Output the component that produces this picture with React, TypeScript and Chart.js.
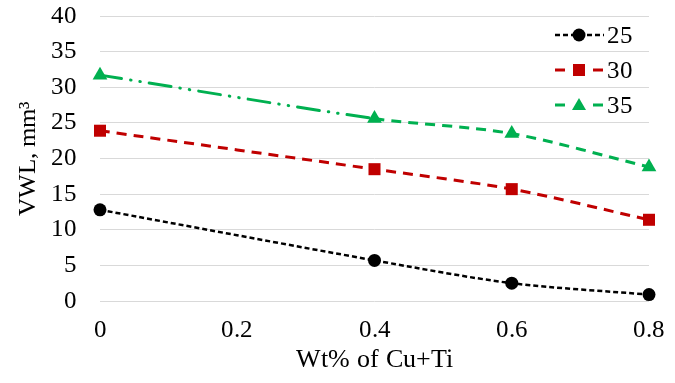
import React, { useEffect, useRef } from "react";
import { Chart, registerables } from "chart.js";

Chart.register(...registerables);

const xValues = [0, 0.4, 0.6, 0.8];
const series25 = [12.8, 5.7, 2.5, 0.9];
const series30 = [23.9, 18.5, 15.7, 11.4];
const series35 = [31.7, 25.6, 23.5, 18.8];
const seriesLabels = ["25", "30", "35"];
const xTickLabels = ["0", "0.2", "0.4", "0.6", "0.8"];
const yTickLabels = ["0", "5", "10", "15", "20", "25", "30", "35", "40"];

const FONT = "TNRLocal, 'Liberation Serif', 'Times New Roman', serif";
const BLACK = "#000000";
const RED = "#C00000";
const GREEN = "#00B050";

const toPoints = (ys: number[]) => ys.map((y, i) => ({ x: xValues[i], y }));

const legendItems = [
  { label: seriesLabels[0], color: BLACK, width: 2.5, dash: [5, 3], style: "circle", r: 6.5 },
  { label: seriesLabels[1], color: RED, width: 3, dash: [10, 28], style: "rect", r: 8.5 },
  { label: seriesLabels[2], color: GREEN, width: 3, dash: [10, 28], style: "triangle", r: 8 },
];

const legendPlugin = {
  id: "customLegend",
  afterDraw(chart: any) {
    const ctx = chart.ctx as CanvasRenderingContext2D;
    const x0 = 555;
    const x1 = 604;
    const ys = [35, 70, 105];
    legendItems.forEach((it, i) => {
      const y = ys[i];
      ctx.save();
      ctx.strokeStyle = it.color;
      ctx.lineWidth = it.width;
      ctx.setLineDash(it.dash);
      ctx.beginPath();
      ctx.moveTo(x0, y);
      ctx.lineTo(x1, y);
      ctx.stroke();
      ctx.setLineDash([]);
      ctx.fillStyle = it.color;
      const cx = 579;
      ctx.beginPath();
      if (it.style === "circle") {
        ctx.arc(cx, y, it.r, 0, Math.PI * 2);
      } else if (it.style === "rect") {
        const s = 6;
        ctx.rect(cx - s, y - s, 2 * s, 2 * s);
      } else {
        ctx.moveTo(cx, y - 7);
        ctx.lineTo(cx + 7, y + 5);
        ctx.lineTo(cx - 7, y + 5);
        ctx.closePath();
      }
      ctx.fill();
      ctx.fillStyle = BLACK;
      ctx.font = `25px ${FONT}`;
      ctx.textAlign = "left";
      ctx.textBaseline = "middle";
      ctx.fillText(it.label, 607, y + 1);
      ctx.restore();
    });
  },
};

export default function App() {
  const ref = useRef<HTMLCanvasElement | null>(null);

  useEffect(() => {
    document.body.style.margin = "0";
    let chart: any = null;
    let cancelled = false;
    const build = () => {
      if (cancelled || !ref.current) return;
      chart = new Chart(ref.current, {
        type: "line",
        data: {
          datasets: [
            {
              label: seriesLabels[0],
              data: toPoints(series25),
              borderColor: BLACK,
              backgroundColor: BLACK,
              borderWidth: 2.5,
              borderDash: [5, 3],
              pointStyle: "circle",
              pointRadius: 6.5,
              pointBackgroundColor: BLACK,
              pointBorderColor: BLACK,
              pointBorderWidth: 0,
              tension: 0.3,
              clip: false,
            },
            {
              label: seriesLabels[1],
              data: toPoints(series30),
              borderColor: RED,
              backgroundColor: RED,
              borderWidth: 3,
              borderDash: [10, 7],
              pointStyle: "rect",
              pointRadius: 8.5,
              pointBackgroundColor: RED,
              pointBorderColor: RED,
              pointBorderWidth: 0,
              tension: 0.3,
              clip: false,
            },
            {
              label: seriesLabels[2],
              data: toPoints(series35),
              borderColor: GREEN,
              backgroundColor: GREEN,
              borderWidth: 3,
              borderDash: [10, 7],
              pointStyle: "triangle",
              pointRadius: 8.5,
              pointBackgroundColor: GREEN,
              pointBorderColor: GREEN,
              pointBorderWidth: 0,
              tension: 0.3,
              clip: false,
              segment: {
                borderDash: (c: any) => (c.p0DataIndex === 0 ? [22, 9, 0.5, 9, 0.5, 9] : undefined),
                borderCapStyle: (c: any) => (c.p0DataIndex === 0 ? "round" : undefined),
              },
            } as any,
          ],
        },
        options: {
          responsive: false,
          animation: false,
          layout: { padding: { top: 16, right: 26, left: 0, bottom: 0 } },
          plugins: {
            legend: { display: false },
            tooltip: { enabled: false },
          },
          scales: {
            x: {
              type: "linear",
              min: 0,
              max: 0.8,
              ticks: {
                stepSize: 0.2,
                color: BLACK,
                font: { family: FONT, size: 25 },
                padding: 14,
                maxRotation: 0,
                autoSkip: false,
                callback: (_v: any, i: number) => xTickLabels[i],
              },
              grid: { display: false, drawTicks: false },
              border: { display: false },
              title: {
                display: true,
                text: "Wt% of Cu+Ti",
                color: BLACK,
                font: { family: FONT, size: 26 },
                padding: { top: 0, bottom: 7 },
              },
              afterFit: (s: any) => {
                s.height = 82;
                s.paddingLeft = 0;
                s.paddingRight = 0;
              },
            },
            y: {
              min: 0,
              max: 40,
              ticks: {
                stepSize: 5,
                color: BLACK,
                font: { family: FONT, size: 25 },
                padding: 23,
                callback: (_v: any, i: number) => yTickLabels[i],
              },
              grid: { color: "#d9d9d9", lineWidth: 1, drawTicks: false },
              border: { display: false },
              title: {
                display: true,
                text: "VWL, mm³",
                color: BLACK,
                font: { family: FONT, size: 25 },
                padding: { top: 13, bottom: 0 },
              },
              afterFit: (s: any) => {
                s.width = 100;
                s.paddingTop = 0;
                s.paddingBottom = 0;
              },
            },
          },
        } as any,
        plugins: [legendPlugin],
      });
    };
    const loadFont = async () => {
      try {
        const FF: any = (window as any).FontFace;
        if (FF) {
          const face = new FF(
            "TNRLocal",
            "local('Liberation Serif'), local('LiberationSerif'), local('LiberationSerif-Regular'), local('Liberation Serif Regular')"
          );
          await face.load();
          (document as any).fonts.add(face);
        }
      } catch (e) {
        /* fall back to the named family */
      }
      try {
        await (document as any).fonts.load("25px TNRLocal", "VWL, mm³ 0123456789.");
      } catch (e) {
        /* ignore */
      }
    };
    loadFont().then(() => build());
    return () => {
      cancelled = true;
      if (chart) chart.destroy();
    };
  }, []);

  return (
    <div style={{ width: 675, height: 383 }}>
      <canvas ref={ref} width={675} height={383} />
    </div>
  );
}
